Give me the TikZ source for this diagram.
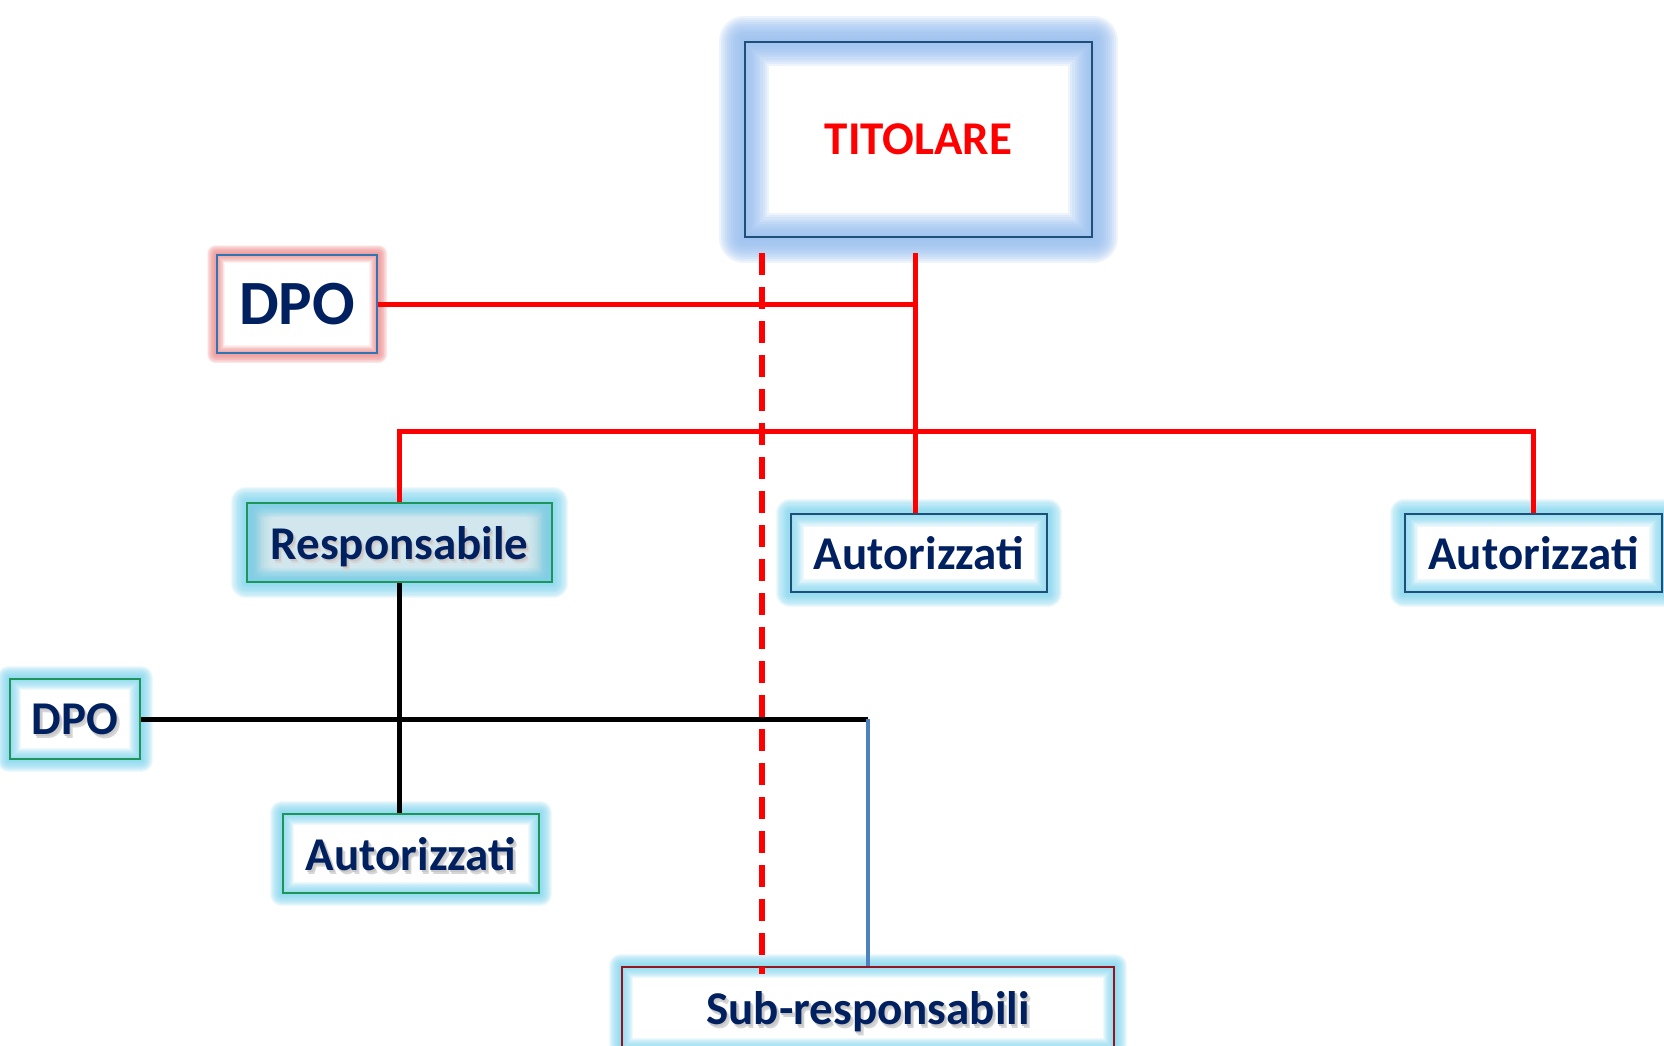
\documentclass[tikz,border=0pt]{standalone}
\usepackage{fontspec}
\setmainfont{Carlito}
\usetikzlibrary{calc}
\definecolor{navy}{RGB}{0,32,96}
\definecolor{titred}{RGB}{255,0,0}
\definecolor{titglow}{RGB}{150,190,240}
\definecolor{darkblue}{RGB}{31,78,121}
\definecolor{midblue}{RGB}{46,117,182}
\definecolor{pinkglow}{RGB}{240,140,140}
\definecolor{cyanglow}{RGB}{130,215,240}
\definecolor{tealfill}{RGB}{130,194,212}
\definecolor{grn}{RGB}{30,150,90}
\definecolor{dred}{RGB}{150,20,30}
\definecolor{lineblue}{RGB}{79,129,189}
\pgfdeclarelayer{bg}
\pgfsetlayers{bg,main}
\newcommand\shd[1]{\rlap{\kern3pt\raisebox{-4pt}{\color{black!16}#1}}\rlap{\kern1.5pt\raisebox{-2pt}{\color{black!22}#1}}#1}
\newcommand\glowrect[4]{%
  \foreach \k in {1,...,12}{%
    \draw[draw=#2, line width={#3*\k/6*1pt}, opacity=#4, line join=round]
      (#1.north west) rectangle (#1.south east);
  }}
\begin{document}
\begin{tikzpicture}[x=1pt,y=-1pt,
  box/.style={draw, line width=2.5pt, inner sep=0pt, text depth=0pt,
    font=\fontsize{47}{50}\selectfont\bfseries, text=navy},
  redline/.style={draw=titred, line width=5pt},
  blackline/.style={draw=black, line width=5pt},
  blueline/.style={draw=lineblue, line width=4pt}]
\useasboundingbox (0,0) rectangle (1664,1045);

% nodes
\node[box, draw=darkblue, text=titred, minimum width=347pt, minimum height=195pt] (tit) at (918.5,139.5) {TITOLARE};
\node[box, draw=midblue, minimum width=160pt, minimum height=98pt, font=\fontsize{63}{66}\selectfont\bfseries] (dpoa) at (297,304) {DPO};
\node[box, draw=grn, minimum width=305pt, minimum height=79pt] (resp) at (399.5,542.5) {\shd{Responsabile}};
\node[box, draw=darkblue, minimum width=256pt, minimum height=78pt] (auta) at (919,553) {Autorizzati};
\node[box, draw=darkblue, minimum width=257pt, minimum height=78pt] (autb) at (1533.5,553) {Autorizzati};
\node[box, draw=grn, minimum width=130pt, minimum height=80pt] (dpob) at (75,719) {\shd{DPO}};
\node[box, draw=grn, minimum width=256pt, minimum height=79pt] (autc) at (411,853.5) {\shd{Autorizzati}};
\node[box, draw=dred, minimum width=492pt, minimum height=82pt] (sub) at (868,1008) {\shd{Sub-responsabili}};

% background and glows
\begin{pgfonlayer}{bg}
  \fill[white] (0,0) rectangle (1664,1045);
  \fill[tealfill] (resp.north west) rectangle (resp.south east);
  \foreach \k in {6,8,10,12,14,16,18,20,22,24}{%
    \fill[white, opacity=0.1, rounded corners=8pt]
      ($(resp.north west)+(\k,\k*0.6)$) rectangle ($(resp.south east)+(-\k,-\k*0.6)$);
  }
  \glowrect{tit}{titglow}{25}{0.16}
  \glowrect{dpoa}{pinkglow}{9}{0.12}
  \glowrect{resp}{cyanglow}{15}{0.13}
  \glowrect{auta}{cyanglow}{14}{0.13}
  \glowrect{autb}{cyanglow}{14}{0.13}
  \glowrect{dpob}{cyanglow}{12}{0.13}
  \glowrect{autc}{cyanglow}{12}{0.13}
  \glowrect{sub}{cyanglow}{12}{0.13}
\end{pgfonlayer}

% connector coordinates
\coordinate (rtop) at (915,253);
\coordinate (hub) at (915,431);
\coordinate (dtop) at (762,253);
\coordinate (dbot) at (762,974);
\coordinate (bjoin) at (868,719);

% connectors
\draw[redline] (rtop) -- (rtop |- auta.north);
\draw[redline] (dpoa.east) -- (rtop |- dpoa.east);
\draw[redline] (resp.north) |- (hub) -| (autb.north);
\draw[blackline] (resp.south) -- (resp.south |- autc.north);
\draw[blackline] (dpob.east) -- (bjoin);
\draw[blueline] (bjoin) -- (sub.north);
\draw[draw=titred, line width=5.5pt, dash pattern=on 22pt off 12pt] (dtop) -- (dbot);
\end{tikzpicture}
\end{document}
